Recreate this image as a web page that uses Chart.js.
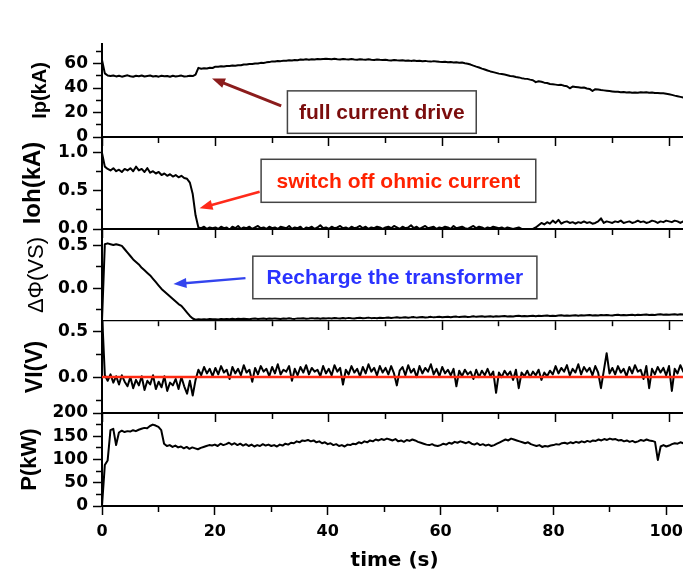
<!DOCTYPE html>
<html>
<head>
<meta charset="utf-8">
<script src="https://cdn.jsdelivr.net/npm/chart.js@4.4.1/dist/chart.umd.min.js"></script>
<style>
  html, body { margin: 0; padding: 0; overflow: hidden; background: #fff; }
  #wrap { position: relative; width: 690px; height: 576px; }
  #wrap canvas { position: absolute; left: 0; top: 0; }
</style>
</head>
<body>
<div id="wrap">
  <canvas id="ipChart" width="690" height="576"></canvas>
  <canvas id="iohChart" width="690" height="576"></canvas>
  <canvas id="fluxChart" width="690" height="576"></canvas>
  <canvas id="vlChart" width="690" height="576"></canvas>
  <canvas id="powerChart" width="690" height="576"></canvas>
</div>
<script>
// sample times (s), shared by all five traces
const time = [
  0, 0.5, 1, 1.5, 2, 2.5, 3, 3.5, 4, 4.5, 5, 5.5, 6, 6.5, 7, 7.5, 8, 8.5, 9, 9.5,
  10, 10.5, 11, 11.5, 12, 12.5, 13, 13.5, 14, 14.5, 15, 15.5, 16, 16.5, 17, 17.5, 18, 18.5, 19, 19.5,
  20, 20.5, 21, 21.5, 22, 22.5, 23, 23.5, 24, 24.5, 25, 25.5, 26, 26.5, 27, 27.5, 28, 28.5, 29, 29.5,
  30, 30.5, 31, 31.5, 32, 32.5, 33, 33.5, 34, 34.5, 35, 35.5, 36, 36.5, 37, 37.5, 38, 38.5, 39, 39.5,
  40, 40.5, 41, 41.5, 42, 42.5, 43, 43.5, 44, 44.5, 45, 45.5, 46, 46.5, 47, 47.5, 48, 48.5, 49, 49.5,
  50, 50.5, 51, 51.5, 52, 52.5, 53, 53.5, 54, 54.5, 55, 55.5, 56, 56.5, 57, 57.5, 58, 58.5, 59, 59.5,
  60, 60.5, 61, 61.5, 62, 62.5, 63, 63.5, 64, 64.5, 65, 65.5, 66, 66.5, 67, 67.5, 68, 68.5, 69, 69.5,
  70, 70.5, 71, 71.5, 72, 72.5, 73, 73.5, 74, 74.5, 75, 75.5, 76, 76.5, 77, 77.5, 78, 78.5, 79, 79.5,
  80, 80.5, 81, 81.5, 82, 82.5, 83, 83.5, 84, 84.5, 85, 85.5, 86, 86.5, 87, 87.5, 88, 88.5, 89, 89.5,
  90, 90.5, 91, 91.5, 92, 92.5, 93, 93.5, 94, 94.5, 95, 95.5, 96, 96.5, 97, 97.5, 98, 98.5, 99, 99.5,
  100, 100.5, 101, 101.5, 102, 102.5, 103, 103.5
];

// plasma current Ip (kA)
const ip = [
  63, 52, 50.2, 49.8, 50.3, 49.5, 50.1, 49.3, 49.9, 50.4, 49.6, 49.2, 50, 49.7, 50.3, 49.4, 49.8, 50.2, 49.5, 49.9,
  49.3, 50.1, 49.6, 49.9, 49.2, 50, 49.5, 49.8, 50.2, 49.4, 49.7, 50.1, 49.8, 51, 56.5, 55.8, 56.2, 56, 56.6, 56.4,
  57.5, 57.4, 57.8, 57.7, 58.1, 58, 58.4, 58.3, 58.7, 58.6, 59.3, 59.2, 59.7, 59.6, 60.1, 60, 60.6, 60.5, 61, 61.2,
  61.8, 61.7, 62.1, 62, 62.4, 62.3, 62.7, 62.5, 62.9, 62.8, 63.3, 63.1, 63.5, 63.2, 63.6, 63.4, 63.8, 63.5, 63.7, 63.9,
  63.7, 63.5, 63.9, 63.6, 63.4, 63.8, 63.5, 63.3, 63.7, 63.4, 63.2, 63.6, 63.3, 63.1, 63.5, 63.2, 63, 63.4, 63.1, 62.9,
  63.1, 62.8, 62.6, 63, 62.7, 62.5, 62.8, 62.4, 62.6, 62.2, 62.5, 62.1, 62.3, 61.9, 62.2, 61.8, 61.6, 62, 61.7, 61.4,
  61.3, 61.5, 61.1, 61.2, 60.9, 61, 60.6, 60.8, 60.3, 59.9, 59.2, 58.3, 57.5, 56.8, 55.9, 55.2, 54.3, 53.6, 53, 52.4,
  51.8, 51.4, 51, 50.5, 49.9, 49.6, 49, 48.7, 48.1, 47.7, 47.5, 46.9, 46.4, 44.8, 45.6, 45.2, 44.4, 44.1, 43.3, 43.1,
  42.8, 42.4, 42.6, 41.9, 41.5, 39.8, 41.2, 40.9, 40.6, 40.2, 40.4, 39.6, 39.3, 37.6, 39.1, 38.8, 38.4, 38.1, 37.8, 37.5,
  37.2, 36.9, 37, 36.6, 36.8, 36.3, 36.5, 36.1, 36.4, 36.2, 36.6, 36.3, 36.5, 36.1, 36.4, 35.9, 36, 35.7, 35.8, 35.4,
  35, 34.4, 33.8, 33.3, 32.8, 32.3, 32, 31.7
];

// ohmic coil current Ioh (kA)
const ioh = [
  1.0, 0.82, 0.79, 0.77, 0.8, 0.76, 0.78, 0.75, 0.79, 0.77, 0.8, 0.76, 0.82, 0.77, 0.79, 0.75, 0.8, 0.74, 0.76, 0.73,
  0.75, 0.71, 0.73, 0.7, 0.72, 0.69, 0.71, 0.68, 0.7, 0.67, 0.66, 0.61, 0.46, 0.18, 0.02, 0.01, 0.03, 0.0, 0.02, 0.01,
  0.02, 0.0, 0.03, 0.01, 0.02, -0.01, 0.03, 0.01, 0.04, 0.0, 0.02, 0.01, 0.03, 0.0, 0.02, 0.04, 0.01, 0.02, 0.0, 0.03,
  0.01, 0.02, 0.0, 0.03, 0.02, 0.01, 0.04, 0.0, 0.02, 0.01, 0.03, -0.01, 0.02, 0.01, 0.03, 0.0, 0.02, 0.05, 0.01, 0.02,
  0.0, 0.03, 0.01, 0.02, 0.04, 0.01, 0.02, 0.0, 0.03, 0.01, 0.02, 0.04, 0.01, 0.03, 0.0, 0.02, 0.01, 0.03, 0.02, 0.0,
  0.02, 0.03, 0.01, 0.04, 0.02, 0.0, 0.03, 0.01, 0.02, 0.05, 0.01, 0.03, 0.0, 0.02, 0.04, 0.01, 0.02, 0.03, 0.0, 0.02,
  0.01, 0.03, 0.02, 0.0, 0.04, 0.01, 0.02, 0.03, 0.01, 0.0, 0.02, 0.04, 0.01, 0.03, 0.02, 0.0, 0.02, 0.01, 0.03, 0.02,
  0.01, 0.02, 0.0, 0.02, 0.01, 0.0, 0.01, 0.02, 0.0, -0.01, -0.02, -0.01, 0.0, 0.02, 0.05, 0.08, 0.06, 0.09, 0.07, 0.11,
  0.08, 0.12, 0.07, 0.09, 0.1, 0.08, 0.09, 0.07, 0.09, 0.08, 0.1, 0.08, 0.09, 0.07, 0.08, 0.1, 0.14, 0.08, 0.1, 0.09,
  0.08, 0.1, 0.09, 0.11, 0.08, 0.09, 0.1, 0.08, 0.09, 0.11, 0.09, 0.1, 0.08, 0.09, 0.11, 0.1, 0.08, 0.1, 0.09, 0.11,
  0.1, 0.09, 0.11, 0.1, 0.08, 0.1, 0.11, 0.1
];

// transformer flux swing (V·s)
const flux = [
  -0.39, 0.52, 0.53, 0.52, 0.51, 0.52, 0.51, 0.5, 0.46, 0.42, 0.38, 0.34, 0.31, 0.28, 0.24, 0.21, 0.18, 0.15, 0.11, 0.07,
  0.03, -0.01, -0.04, -0.07, -0.1, -0.13, -0.16, -0.19, -0.21, -0.25, -0.29, -0.33, -0.36, -0.375, -0.37, -0.372, -0.368, -0.371, -0.366, -0.369,
  -0.368, -0.372, -0.366, -0.37, -0.365, -0.369, -0.364, -0.368, -0.363, -0.367, -0.362, -0.366, -0.37, -0.364, -0.361, -0.366, -0.363, -0.36, -0.365, -0.361,
  -0.364, -0.359, -0.362, -0.366, -0.36, -0.363, -0.358, -0.362, -0.365, -0.359, -0.361, -0.357, -0.362, -0.36, -0.356, -0.361, -0.358, -0.363, -0.357, -0.36,
  -0.356, -0.36, -0.354, -0.358, -0.361, -0.355, -0.359, -0.353, -0.357, -0.36, -0.354, -0.352, -0.357, -0.355, -0.35, -0.356, -0.353, -0.358, -0.351, -0.355,
  -0.352, -0.348, -0.354, -0.35, -0.346, -0.352, -0.349, -0.345, -0.351, -0.347, -0.344, -0.35, -0.346, -0.342, -0.348, -0.345, -0.341, -0.347, -0.344, -0.34,
  -0.346, -0.342, -0.339, -0.345, -0.341, -0.338, -0.344, -0.34, -0.336, -0.342, -0.339, -0.335, -0.341, -0.337, -0.334, -0.34, -0.336, -0.333, -0.339, -0.335,
  -0.338, -0.334, -0.331, -0.337, -0.333, -0.336, -0.332, -0.329, -0.335, -0.331, -0.334, -0.33, -0.327, -0.333, -0.329, -0.332, -0.328, -0.325, -0.331, -0.327,
  -0.33, -0.326, -0.323, -0.329, -0.325, -0.328, -0.324, -0.321, -0.327, -0.323, -0.326, -0.322, -0.319, -0.325, -0.321, -0.324, -0.32, -0.323, -0.318, -0.322,
  -0.325, -0.32, -0.317, -0.323, -0.319, -0.322, -0.318, -0.315, -0.321, -0.317, -0.32, -0.316, -0.313, -0.319, -0.315, -0.318, -0.314, -0.311, -0.317, -0.313,
  -0.316, -0.312, -0.31, -0.315, -0.311, -0.314, -0.31, -0.313
];

// loop voltage (V)
const vl = [
  0.7, 0.02, -0.04, 0.03, -0.06, 0.01, -0.08, 0.02, -0.05, -0.1, 0.0, -0.12, -0.03, -0.09, 0.01, -0.14, -0.04, -0.08, 0.02, -0.13,
  -0.05, -0.11, 0.01, -0.15, -0.06, -0.09, -0.02, -0.13, 0.0, -0.1, -0.18, -0.04, -0.2, -0.03, 0.08, 0.02, 0.11, 0.04, 0.09, 0.01,
  0.1, 0.03, 0.12, 0.05, 0.08, -0.02, 0.11, 0.04, 0.09, 0.02, 0.13, 0.05, 0.08, -0.05, 0.1, 0.03, 0.12, 0.06, 0.09, 0.01,
  0.11, 0.04, 0.14, 0.03, 0.08, 0.06, 0.12, -0.04, 0.09, 0.02, 0.11, 0.05, 0.13, 0.03, 0.1, 0.06, 0.08, 0.01, 0.12, 0.04,
  0.09, 0.02, 0.13, 0.06, 0.1, -0.08, 0.08, 0.03, 0.12, 0.05, 0.09, 0.01, 0.11, 0.04, 0.14, 0.06, 0.1, 0.02, 0.12, 0.05,
  0.1, 0.03, 0.12, 0.04, -0.09, 0.07, 0.11, 0.02, 0.13, 0.05, 0.09, 0.0, 0.12, 0.04, 0.1, 0.06, 0.14, 0.03, 0.09, 0.01,
  0.11, 0.04, 0.08, 0.02, 0.09, -0.1, 0.07, 0.01, 0.08, 0.03, 0.06, -0.02, 0.08, 0.0, 0.07, 0.02, 0.09, 0.01, 0.06, -0.17,
  0.05, 0.0, 0.07, 0.02, 0.06, -0.03, 0.08, -0.12, 0.05, 0.01, 0.07, 0.0, 0.06, 0.02, 0.08, -0.03, 0.05, 0.01, 0.07, 0.03,
  0.12, 0.04, 0.1, 0.06, 0.13, 0.02, 0.09, 0.05, 0.14, 0.03, 0.11, 0.06, 0.1, 0.02, 0.12, 0.05, -0.12, 0.07, 0.26, 0.04,
  0.1, 0.03, 0.12, 0.05, 0.09, 0.01, 0.11, 0.04, 0.13, 0.06, 0.08, -0.02, 0.12, -0.12, 0.09, 0.03, 0.11, 0.05, 0.1, 0.02,
  0.12, -0.15, 0.09, 0.04, 0.13, 0.06, 0.1, 0.03
];

// zero reference for the loop voltage
const vlZeroTime = [0, 103.5];
const vlZero = [0, 0];

// heating power P (kW)
const power = [
  0, 88, 98, 163, 166, 131, 158, 162, 159, 161, 160, 163, 161, 164, 166, 168, 167, 172, 175, 173,
  170, 163, 134, 129, 131, 127, 130, 126, 128, 124, 127, 123, 126, 124, 122, 125, 127, 129, 131, 130,
  132, 129, 134, 131, 133, 136, 132, 135, 131, 134, 130, 133, 129, 132, 128, 131, 129, 133, 130, 132,
  129, 131, 128, 132, 130, 134, 132, 136, 135, 139, 137, 141, 140, 142, 139, 141, 137, 139, 135, 137,
  133, 135, 131, 133, 129, 131, 128, 132, 131, 134, 133, 137, 135, 139, 137, 141, 139, 143, 141, 144,
  142, 145, 143, 141, 144, 139, 141, 138, 142, 140, 143, 141, 138, 136, 134, 132, 131, 133, 130, 129,
  131, 134, 132, 136, 134, 138, 136, 139, 137, 135, 138, 134, 132, 135, 131, 133, 130, 132, 129, 131,
  134, 137, 140, 143, 141, 145, 143, 141, 139, 137, 135, 137, 133, 131, 129, 131, 127, 129, 128, 130,
  131, 133, 132, 135, 136, 134, 137, 135, 138, 136, 139, 137, 140, 138, 141, 140, 143, 141, 144, 142,
  145, 143, 144, 141, 142, 139, 141, 138, 140, 137, 139, 142, 140, 143, 141, 140, 138, 99, 128, 131,
  128, 130, 133, 135, 134, 137, 135, 136
];

Chart.defaults.font.family = '"DejaVu Sans", sans-serif';
Chart.defaults.color = '#000';

const X_MAX = 103.7;
const onStep = (v, step) => Math.abs(v / step - Math.round(v / step)) < 1e-6;

// every multiple of `step` inside [lo, hi], as scale ticks
const stepTicks = (lo, hi, step) => {
  const out = [];
  for (let k = Math.ceil(lo / step - 1e-9); k * step <= hi + 1e-9; k++) {
    out.push({ value: +(k * step).toFixed(6) });
  }
  return out;
};

// boxed captions with an arrow, placed in data coordinates of their panel
const notePlugin = {
  id: 'notes',
  afterDraw(chart, args, opts) {
    const { ctx } = chart;
    const xs = chart.scales.x, ys = chart.scales.y;
    for (const n of opts.items || []) {
      const tx = xs.getPixelForValue(n.tail[0]), ty = ys.getPixelForValue(n.tail[1]);
      const hx = xs.getPixelForValue(n.tip[0]), hy = ys.getPixelForValue(n.tip[1]);
      const a = Math.atan2(hy - ty, hx - tx);
      const c = Math.cos(a), s = Math.sin(a);
      ctx.save();
      ctx.strokeStyle = n.arrow;
      ctx.fillStyle = n.arrow;
      ctx.lineWidth = n.width;
      ctx.beginPath();
      ctx.moveTo(tx, ty);
      ctx.lineTo(hx - 8 * c, hy - 8 * s);
      ctx.stroke();
      ctx.beginPath();
      ctx.moveTo(hx, hy);
      ctx.lineTo(hx - 13 * c + 5 * s, hy - 13 * s - 5 * c);
      ctx.lineTo(hx - 13 * c - 5 * s, hy - 13 * s + 5 * c);
      ctx.closePath();
      ctx.fill();

      const x1 = xs.getPixelForValue(n.box[0]), y1 = ys.getPixelForValue(n.box[1]);
      const x2 = xs.getPixelForValue(n.box[2]), y2 = ys.getPixelForValue(n.box[3]);
      ctx.fillStyle = '#fff';
      ctx.fillRect(x1, y1, x2 - x1, y2 - y1);
      ctx.strokeStyle = '#444';
      ctx.lineWidth = 1.5;
      ctx.strokeRect(x1, y1, x2 - x1, y2 - y1);
      ctx.font = 'bold 21px "Liberation Sans", Arial, sans-serif';
      ctx.fillStyle = n.color;
      ctx.textAlign = 'center';
      ctx.textBaseline = 'middle';
      ctx.fillText(n.text, (x1 + x2) / 2, (y1 + y2) / 2 + 1);
      ctx.restore();
    }
  }
};

const panels = [
  {
    canvas: 'ipChart', top: 44, bottom: 137, min: 0, max: 76, minor: 10, major: 20, digits: 0,
    label: 'Ip(kA)', labelSize: 20, labelBold: true, labelX: 40, values: ip,
    notes: [{ text: 'full current drive', color: '#7b0d0d', arrow: '#8b1c1c', width: 3,
              box: [32.7, 37.7, 66.0, 3.0], tail: [31.6, 25.4], tip: [19.4, 47.9] }]
  },
  {
    canvas: 'iohChart', top: 137, bottom: 229, min: 0, max: 1.21, minor: 0.25, major: 0.5, digits: 1,
    label: 'Ioh(kA)', labelSize: 24, labelBold: true, labelX: 33, values: ioh,
    notes: [{ text: 'switch off ohmic current', color: '#ff2200', arrow: '#ff2a1a', width: 2.5,
              box: [28.06, 0.917, 76.5, 0.351], tail: [27.8, 0.49], tip: [17.2, 0.272] }]
  },
  {
    canvas: 'fluxChart', top: 229, bottom: 321, min: -0.39, max: 0.70, minor: 0.25, major: 0.5, digits: 1,
    label: 'ΔΦ(VS)', labelSize: 22, labelBold: false, labelX: 37, values: flux, axisWidth: 1.2,
    notes: [{ text: 'Recharge the transformer', color: '#2a33ff', arrow: '#3344ee', width: 2.5,
              box: [26.6, 0.378, 76.7, -0.126], tail: [25.3, 0.118], tip: [12.6, 0.047] }]
  },
  {
    canvas: 'vlChart', top: 321, bottom: 413, min: -0.39, max: 0.61, minor: 0.25, major: 0.5, digits: 1,
    label: 'VI(V)', labelSize: 23, labelBold: true, labelX: 36, values: vl,
    zero: { time: vlZeroTime, values: vlZero }
  },
  {
    canvas: 'powerChart', top: 413, bottom: 506, min: 0, max: 200, minor: 25, major: 50, digits: 0,
    label: 'P(kW)', labelSize: 22, labelBold: true, labelX: 30, values: power
  }
];

panels.forEach((p, i) => {
  const last = i === panels.length - 1;
  const xHeight = last ? 70 : 10;

  const datasets = [{
    data: time.map((t, k) => ({ x: t, y: p.values[k] })),
    borderColor: '#000',
    borderWidth: 2,
    borderJoinStyle: 'round',
    pointRadius: 0,
    order: 1
  }];
  if (p.zero) {
    datasets.push({
      data: p.zero.time.map((t, k) => ({ x: t, y: p.zero.values[k] })),
      borderColor: '#ff2a12',
      borderWidth: 2.5,
      pointRadius: 0,
      order: 0
    });
  }

  new Chart(document.getElementById(p.canvas), {
    type: 'line',
    data: { datasets },
    plugins: [notePlugin],
    options: {
      responsive: false,
      animation: false,
      events: [],
      devicePixelRatio: 1,
      layout: { padding: { top: p.top, bottom: 576 - p.bottom - xHeight, left: 0, right: 0 } },
      plugins: {
        legend: { display: false },
        tooltip: { enabled: false },
        notes: { items: p.notes || [] }
      },
      scales: {
        x: {
          type: 'linear',
          min: 0,
          max: X_MAX,
          afterFit: s => { s.height = xHeight; },
          afterBuildTicks: s => { s.ticks = stepTicks(s.min, s.max, 10); },
          ticks: {
            display: last,
            autoSkip: false,
            maxRotation: 0,
            padding: 7,
            font: { size: 16, weight: 'bold' },
            callback: v => onStep(v, 20) ? String(Math.round(v)) : ''
          },
          grid: {
            drawOnChartArea: false,
            tickLength: 9,
            tickWidth: 1.5,
            tickColor: '#000',
            tickBorderDash: c => (c.tick && !onStep(c.tick.value, 20)) ? [5, 40] : []
          },
          border: { color: '#000', width: p.axisWidth || 2 },
          title: {
            display: last,
            text: 'time (s)',
            font: { size: 20, weight: 'bold' },
            padding: { top: 0, bottom: 3 }
          }
        },
        y: {
          min: p.min,
          max: p.max,
          afterFit: s => { s.width = 102; },
          afterBuildTicks: s => { s.ticks = stepTicks(s.min, s.max, p.minor); },
          ticks: {
            autoSkip: false,
            padding: 5,
            font: { size: 17, weight: 'bold' },
            callback: v => onStep(v, p.major) ? (Math.round(v / p.major) * p.major).toFixed(p.digits) : ''
          },
          grid: {
            drawOnChartArea: false,
            tickLength: 9,
            tickWidth: 1.5,
            tickColor: '#000',
            tickBorderDash: c => (c.tick && !onStep(c.tick.value, p.major)) ? [0, 3, 5, 40] : []
          },
          border: { color: '#000', width: 2 },
          title: {
            display: true,
            text: p.label,
            font: {
              family: '"Liberation Sans", Arial, sans-serif',
              size: p.labelSize,
              weight: p.labelBold ? 'bold' : 'normal',
              lineHeight: 1
            },
            padding: { top: p.labelX - p.labelSize / 2, bottom: 0 }
          }
        }
      }
    }
  });
});
</script>
</body>
</html>
